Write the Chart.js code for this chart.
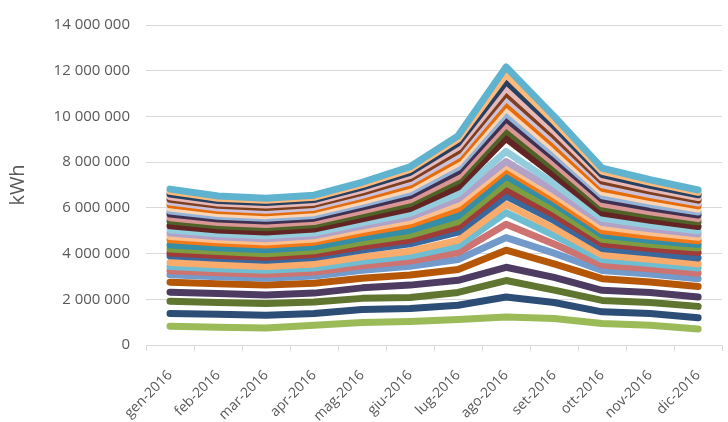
<!DOCTYPE html>
<html><head><meta charset="utf-8">
<script src="https://cdn.jsdelivr.net/npm/chart.js@4/dist/chart.umd.min.js"></script>
<style>html,body{margin:0;padding:0;background:#fff;overflow:hidden;width:728px;height:422px}
#wrap{width:732px;height:422px;position:relative}</style></head>
<body><div id="wrap"><canvas id="c" width="732" height="422"></canvas></div>
<script>
const months = ['gen-2016','feb-2016','mar-2016','apr-2016','mag-2016','giu-2016','lug-2016','ago-2016','set-2016','ott-2016','nov-2016','dic-2016'];
const yTicks = [0,2000000,4000000,6000000,8000000,10000000,12000000,14000000];
// monthly kWh per series, bottom of the stack first
const s01 = [820000,780000,740000,860000,980000,1030000,1120000,1230000,1160000,940000,860000,700000];
const s02 = [555000,560000,560000,520000,570000,570000,620000,870000,700000,510000,520000,490000];
const s03 = [535000,520000,520000,500000,490000,480000,560000,720000,540000,500000,480000,500000];
const s04 = [400000,390000,370000,390000,460000,540000,530000,580000,560000,440000,440000,410000];
const s05 = [440000,430000,430000,430000,420000,440000,470000,750000,590000,510000,460000,460000];
const s06 = [320000,310000,300000,315000,350000,380000,440000,550000,470000,360000,345000,340000];
const s07 = [180000,175000,175000,180000,200000,230000,300000,580000,400000,240000,230000,240000];
const s08 = [180000,175000,170000,175000,195000,225000,290000,510000,380000,235000,225000,230000];
const s09 = [180000,170000,170000,175000,190000,210000,250000,360000,300000,200000,190000,180000];
const s10 = [290000,280000,275000,280000,300000,320000,360000,360000,350000,290000,270000,260000];
const s11 = [130000,130000,125000,130000,150000,170000,220000,290000,240000,200000,200000,240000];
const s12 = [170000,165000,160000,165000,190000,210000,240000,290000,250000,200000,190000,190000];
const s13 = [180000,170000,170000,175000,195000,215000,250000,290000,250000,190000,175000,160000];
const s14 = [220000,205000,205000,205000,210000,240000,300000,290000,210000,185000,175000,160000];
const s15 = [150000,140000,140000,140000,150000,170000,220000,180000,180000,180000,165000,150000];
const s16 = [150000,140000,140000,140000,150000,170000,220000,180000,190000,180000,165000,150000];
const s17 = [140000,130000,130000,130000,140000,160000,230000,440000,290000,180000,160000,140000];
const s18 = [180000,165000,165000,165000,180000,210000,290000,570000,370000,230000,205000,180000];
const s19 = [200000,185000,185000,185000,200000,220000,270000,360000,300000,230000,210000,200000];
const s20 = [150000,140000,140000,140000,150000,165000,200000,260000,230000,180000,165000,150000];
const s21 = [160000,150000,150000,150000,160000,180000,220000,250000,230000,190000,175000,160000];
const s22 = [130000,120000,120000,120000,130000,150000,180000,230000,190000,160000,145000,130000];
const s23 = [130000,120000,120000,120000,130000,150000,180000,220000,190000,160000,145000,130000];
const s24 = [140000,130000,130000,130000,140000,160000,190000,220000,210000,170000,155000,140000];
const s25 = [120000,110000,110000,110000,120000,140000,170000,230000,200000,150000,135000,120000];
const s26 = [130000,120000,120000,120000,130000,150000,180000,220000,190000,160000,145000,130000];
const s27 = [110000,100000,100000,100000,110000,130000,160000,220000,190000,140000,125000,110000];
const s28 = [120000,110000,110000,110000,120000,140000,180000,290000,220000,150000,135000,120000];
const s29 = [110000,100000,100000,100000,110000,130000,170000,300000,210000,140000,125000,110000];
const s30 = [100000,95000,95000,95000,100000,115000,140000,320000,210000,140000,115000,100000];
const seriesList = [s01,s02,s03,s04,s05,s06,s07,s08,s09,s10,s11,s12,s13,s14,s15,s16,s17,s18,s19,s20,s21,s22,s23,s24,s25,s26,s27,s28,s29,s30];
const colors = ['#9BBB59','#2C4D75','#5F7530','#4D3B62','#B65708','#729ACA','#CD7371','#6FBDD1','#F9AB6B','#3A679C',
'#9F3B38','#7E9D40','#358EA6','#F37816','#FAC090','#B3A2C7','#93CDDD','#632523','#4F6228','#D99694',
'#3F3151','#95B3D7','#FCD5B5','#E46C0A','#CCC1DA','#7F3F1F','#E6B9B8','#254061','#FFB97A','#5FB3CE'];

// stacked (cumulative) values, as a stacked line chart shows them
const cumulative = [];
seriesList.forEach((s, i) => {
  cumulative.push(s.map((v, m) => v + (i ? cumulative[i-1][m] : 0)));
});
const datasets = cumulative.map((d, i) => ({
  label: 'Serie ' + (i + 1),
  data: d,
  borderColor: colors[i],
  backgroundColor: colors[i],
  borderWidth: 7,
  pointRadius: 0,
  tension: 0,
  fill: false,
  borderCapStyle: 'round',
  borderJoinStyle: 'round'
})).reverse();

const fmt = v => String(v).replace(/\B(?=(\d{3})+(?!\d))/g, ' ');

// short tick marks between categories, below the category axis
const catTicks = {
  id: 'catTicks',
  afterDraw(chart) {
    const x = chart.scales.x, ctx = chart.ctx;
    const n = chart.data.labels.length, w = x.width / n;
    ctx.save();
    ctx.strokeStyle = '#d9d9d9';
    ctx.lineWidth = 1;
    ctx.beginPath();
    for (let i = 0; i <= n; i++) {
      const px = Math.round(x.left + i * w) + 0.5;
      ctx.moveTo(px, x.top);
      ctx.lineTo(px, x.top + 6);
    }
    ctx.stroke();
    ctx.restore();
  }
};

new Chart(document.getElementById('c'), {
  type: 'line',
  data: { labels: months, datasets },
  plugins: [catTicks],
  options: {
    responsive: false,
    animation: false,
    layout: { padding: { top: 23, right: 0, left: 0, bottom: 0 } },
    plugins: { legend: { display: false }, tooltip: { enabled: false } },
    scales: {
      x: {
        offset: true,
        grid: { offset: true, drawOnChartArea: false, drawTicks: false, color: '#d9d9d9' },
        border: { display: true, color: '#d9d9d9', width: 1 },
        ticks: { minRotation: 45, maxRotation: 45, color: '#595959', font: { family: 'Open Sans', size: 14 }, padding: 22 },
        afterFit: s => { s.height = 77; }
      },
      y: {
        min: 0, max: 14000000,
        afterBuildTicks: s => { s.ticks = yTicks.map(v => ({ value: v })); },
        ticks: { color: '#595959', font: { family: 'Open Sans', size: 15 }, padding: 16, callback: v => fmt(v) },
        grid: { color: '#d9d9d9', drawTicks: false },
        border: { display: false },
        title: { display: true, text: 'kWh', color: '#595959', font: { family: 'Open Sans', size: 20 }, padding: { top: 6, bottom: 4 } },
        afterFit: s => { s.width = 146; }
      }
    }
  }
});
</script></body></html>
